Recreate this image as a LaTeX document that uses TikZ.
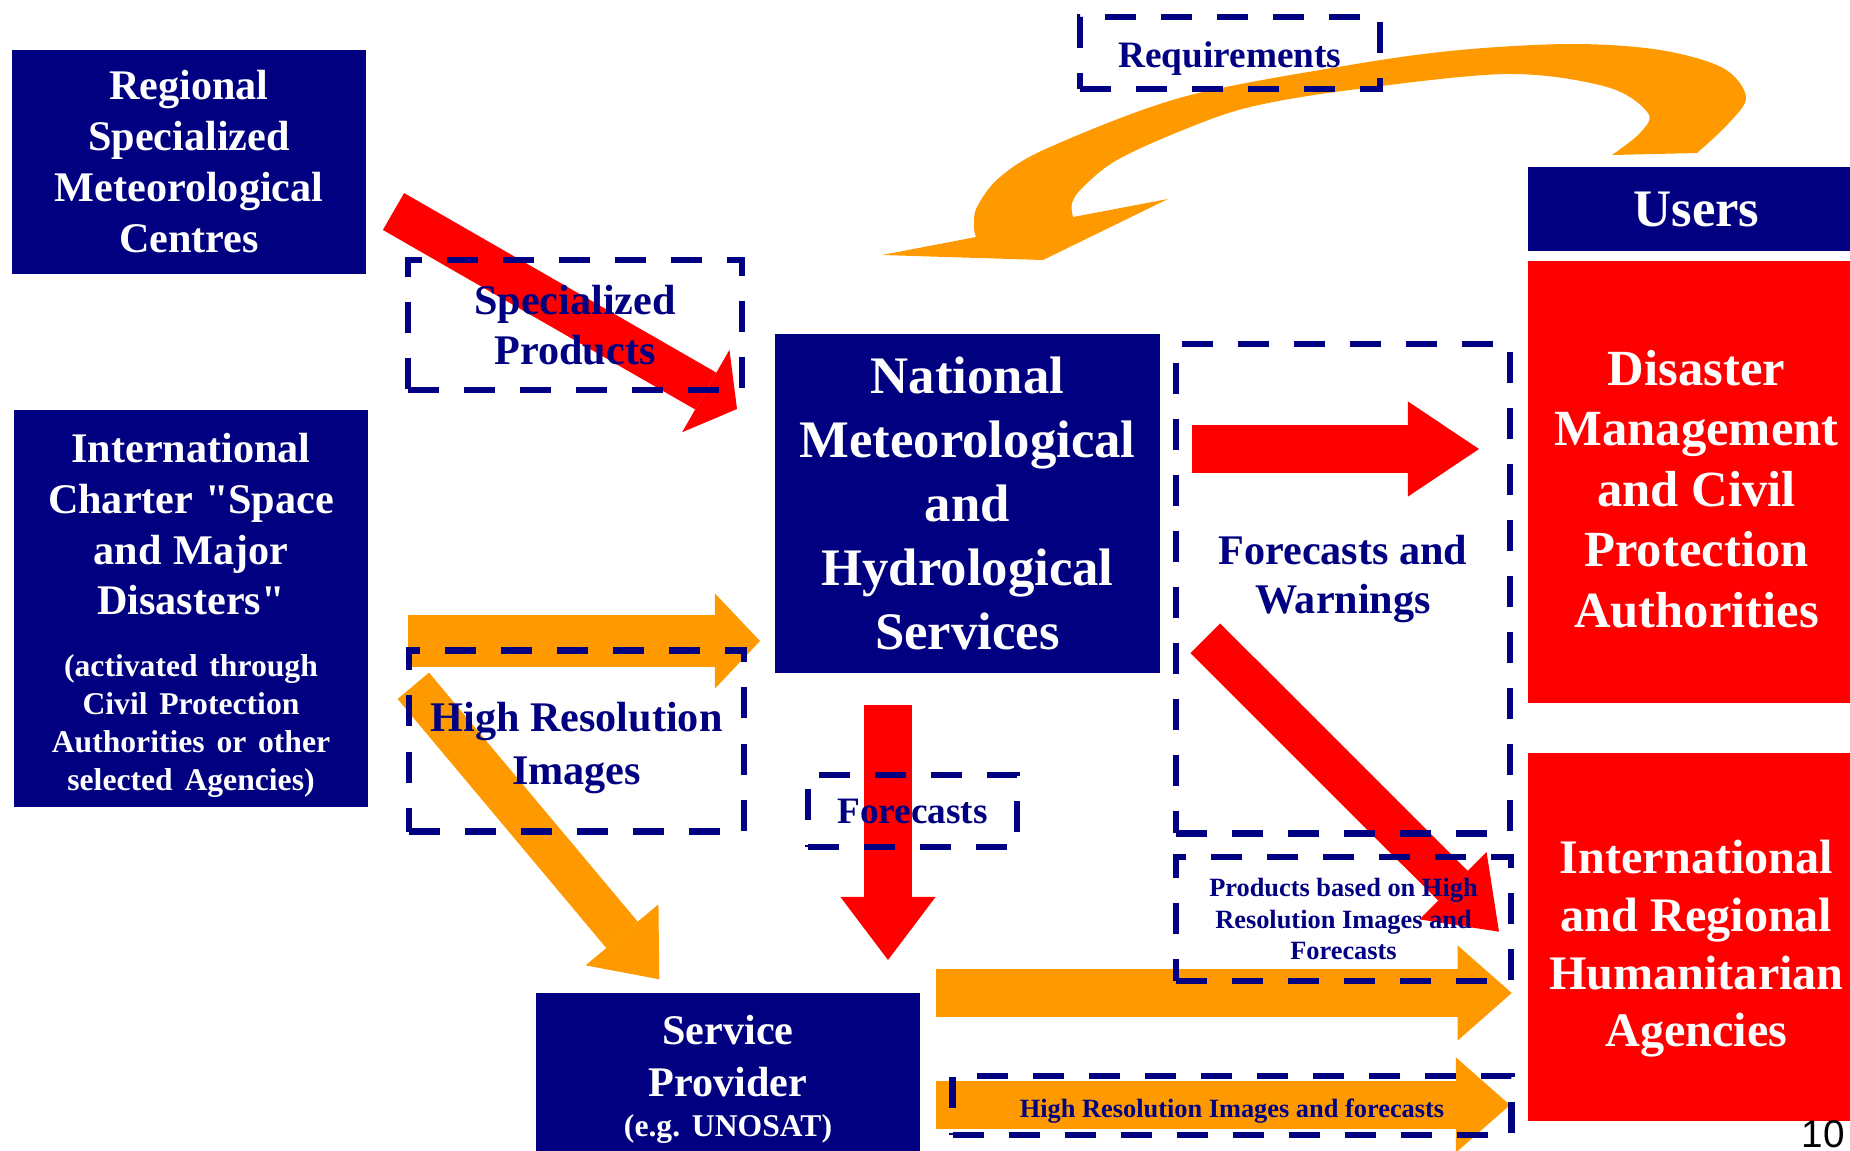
\documentclass[tikz,border=0pt]{standalone}
\usepackage{fontspec}
\setmainfont{Liberation Serif}[Ligatures=TeXOff]
\newfontfamily\pagenumfont{Liberation Sans}
\usetikzlibrary{arrows.meta}
\setlength{\parindent}{0pt}
\frenchspacing

\definecolor{navyblue}{RGB}{0,0,128}
\definecolor{boxred}{RGB}{255,0,0}
\definecolor{arroworange}{RGB}{255,153,0}

\begin{document}
\begin{tikzpicture}[x=0.01cm,y=-0.01cm]
            \tikzstyle{bluebox}=[fill=navyblue,text=white,inner sep=0pt,align=center]
            \tikzstyle{redbox}=[fill=boxred,text=white,inner sep=0pt,align=center]
            \tikzstyle{boxtext}=[text=white,inner sep=0pt,align=center]
            \tikzstyle{dashbox}=[draw=navyblue,line width=0.067cm,dash pattern=on 0.31cm off 0.25cm,text=navyblue,inner sep=0pt,align=center]
            \tikzstyle{flowlabel}=[text=navyblue,inner sep=0pt,align=center]
            \tikzstyle{fathead}=[-{Triangle[length=#1,width=0.95cm,line width=0pt]}]
            \tikzstyle{redflow}=[draw=boxred]
            \tikzstyle{orangeflow}=[draw=arroworange]

            \useasboundingbox (0,0) rectangle (1850,1151);

            \node (rsmc) [bluebox,minimum width=3.54cm,minimum height=2.24cm,font=\bfseries\fontsize{12}{14.5}\selectfont] at (189,162)
                {Regional\\Specialized\\Meteorological\\Centres};
            \node (charter) [bluebox,minimum width=3.54cm,minimum height=3.97cm] at (191,608.5) {};
            \node (chartertext) [boxtext,text width=3.5cm,font=\bfseries] at (191,615.5)
                {{\fontsize{12}{14.4}\selectfont International\\Charter "Space\\and Major\\Disasters"\par}\vspace{6.8pt}
                 {\fontsize{9}{10.8}\selectfont (activated through\\Civil Protection\\Authorities or other\\selected Agencies)\par}};
            \node (nmhs) [bluebox,minimum width=3.85cm,minimum height=3.39cm,font=\bfseries\fontsize{15}{18.2}\selectfont] at (967.5,503.5)
                {National\\Meteorological\\and\\Hydrological\\Services};
            \node (sp) [bluebox,minimum width=3.84cm,minimum height=1.72cm,text width=3.7cm,font=\bfseries] at (728,1079)
                {{\fontsize{12}{14.8}\selectfont Service\\Provider\par}\vspace{0.6pt}
                 {\fontsize{9}{10.8}\selectfont (e.g. UNOSAT)\par}};
            \node (users) [bluebox,minimum width=3.37cm,minimum height=0.84cm,font=\bfseries\fontsize{15}{18}\selectfont] at (1696.5,209) {Users};
            \node (dm) [redbox,minimum width=3.37cm,minimum height=4.42cm] at (1696.5,482) {};
            \node (dmtext) [boxtext,font=\bfseries\fontsize{14.4}{17.2}\selectfont] at (1696.5,489)
                {Disaster\\Management\\and Civil\\Protection\\Authorities};
            \node (ira) [redbox,minimum width=3.37cm,minimum height=3.68cm] at (1696.5,937) {};
            \node (iratext) [boxtext,font=\bfseries\fontsize{13.7}{16.4}\selectfont] at (1696.5,949)
                {International\\and Regional\\Humanitarian\\Agencies};
            \node (pagenum) [anchor=base,inner sep=0pt,font=\pagenumfont\fontsize{11}{13}\selectfont] at (1823,1147) {10};

            \coordinate (rsmcout) at (393.5,211.5);
            \coordinate (nmhsin) at (737,409);
            \coordinate (nmhsright) at (1192,449);
            \coordinate (dmin) at (1479,449);
            \coordinate (nmhsdiag) at (1205.3,638.3);
            \coordinate (irain) at (1499,931.7);
            \coordinate (nmhsdown) at (888,705);
            \coordinate (spin) at (888,960);
            \coordinate (charterout) at (407.7,641);
            \coordinate (nmhsleft) at (760,641);
            \coordinate (charterdiag) at (413.3,685.8);
            \coordinate (spdiag) at (659.3,979.3);
            \coordinate (spupper) at (936,993);
            \coordinate (iraupper) at (1511.7,993);
            \coordinate (splower) at (936,1105);
            \coordinate (iralower) at (1510,1105);

            \draw [redflow,line width=0.425cm,fathead=0.36cm] (rsmcout) -- (nmhsin);
            \draw [redflow,line width=0.477cm,fathead=0.71cm] (nmhsright) -- (dmin);
            \draw [redflow,line width=0.42cm,fathead=0.65cm] (nmhsdiag) -- (irain);
            \draw [redflow,line width=0.48cm,fathead=0.63cm] (nmhsdown) -- (spin);
            \draw [orangeflow,line width=0.52cm,fathead=0.45cm] (charterout) -- (nmhsleft);
            \draw [orangeflow,line width=0.41cm,fathead=0.58cm] (charterdiag) -- (spdiag);
            \draw [orangeflow,line width=0.48cm,fathead=0.54cm] (spupper) -- (iraupper);
            \draw [orangeflow,line width=0.47cm,fathead=0.54cm] (splower) -- (iralower);

            \fill [arroworange] plot [smooth,tension=0.55] coordinates {(1612,155) (1640,133) (1648,113) (1607,87) (1507,74) (1350,90)
                (1250,107) (1183,130) (1117,160) (1083,187) (1072,203) (1073,217)}
                -- (1168,199) -- (1043,260) -- (882,255) -- (976,237)
                -- plot [smooth,tension=0.55] coordinates {(976,237) (974,227) (977,207) (1000,177) (1050,147) (1183,97) (1350,65)
                (1460,50) (1573,44) (1660,50) (1723,68) (1746,97) (1728,124) (1697,153)} -- cycle;

            \node (req) [dashbox,minimum width=3cm,minimum height=0.72cm,text height=9pt,text depth=0.8pt,font=\bfseries\fontsize{10.6}{12.7}\selectfont] at (1230,53) {Requirements};
            \node (sprod) [dashbox,minimum width=3.34cm,minimum height=1.3cm,font=\bfseries\fontsize{12}{14.2}\selectfont] at (575,325)
                {Specialized\\Products};
            \node (hri) [dashbox,minimum width=3.35cm,minimum height=1.81cm] at (576.5,741) {};
            \node (hritext) [flowlabel,font=\bfseries\fontsize{12}{14.8}\selectfont] at (576.5,748) {High Resolution\\Images};
            \node (fc) [dashbox,minimum width=2.09cm,minimum height=0.72cm,font=\bfseries\fontsize{10.6}{12.7}\selectfont] at (912.5,811) {Forecasts};
            \node (fw) [dashbox,minimum width=3.34cm,minimum height=4.89cm] at (1343,588.5) {};
            \node (fwtext) [flowlabel,font=\bfseries\fontsize{12}{13.7}\selectfont] at (1343,579) {Forecasts and\\Warnings};
            \node (pb) [dashbox,minimum width=3.35cm,minimum height=1.24cm,font=\bfseries\fontsize{7.5}{9}\selectfont] at (1343.5,919)
                {Products based on High\\Resolution Images and\\Forecasts};
            \node (hrf) [dashbox,minimum width=5.58cm,minimum height=0.59cm,text height=7.5pt,text depth=0.5pt,font=\bfseries\fontsize{7.5}{9}\selectfont] at (1232,1105.5)
                {High Resolution Images and forecasts};
        \end{tikzpicture}
\end{document}
